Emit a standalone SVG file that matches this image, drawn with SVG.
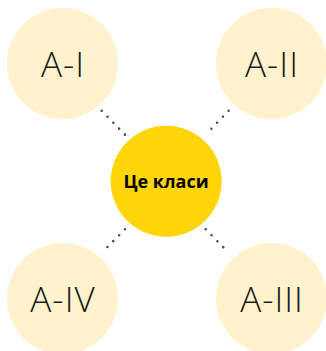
<svg xmlns="http://www.w3.org/2000/svg" width="326" height="351" viewBox="0 0 326 351">
<style>
.sat{fill:#FFF2CC}
.hub{fill:#FFD50A}
.lbl{font-family:"Open Sans","Noto Sans","Liberation Sans",sans-serif;font-weight:300;font-size:35px;letter-spacing:1px;fill:#1a1a1a;text-anchor:middle}
.hubl{font-family:"Open Sans","Noto Sans","Liberation Sans",sans-serif;font-weight:700;font-size:18px;fill:#000;text-anchor:middle}
.con{stroke:#44546A;stroke-width:2.6;stroke-linecap:round;stroke-dasharray:0 8.35;fill:none}
</style>
<rect width="326" height="351" fill="#fff"/>
<g id="connectors">
<line class="con" x1="101.7" y1="110.7" x2="125" y2="134.7"/>
<line class="con" x1="228.7" y1="110.7" x2="205.7" y2="134.7"/>
<line class="con" x1="125" y1="229.3" x2="101.7" y2="252.7"/>
<line class="con" x1="205.7" y1="229.3" x2="228.7" y2="252.7"/>
</g>
<g id="a1"><circle class="sat" cx="62.5" cy="63.5" r="55.5"/><text class="lbl" x="63" y="77">A-I</text></g>
<g id="a2"><circle class="sat" cx="271.5" cy="63.5" r="55.5"/><text class="lbl" x="272" y="77">A-II</text></g>
<g id="a4"><circle class="sat" cx="62.5" cy="298.5" r="55.5"/><text class="lbl" x="63" y="312">A-IV</text></g>
<g id="a3"><circle class="sat" cx="271.5" cy="298.5" r="55.5"/><text class="lbl" x="272" y="312">A-III</text></g>
<g id="hub"><circle class="hub" cx="166.2" cy="181.2" r="55.5"/><text class="hubl" x="166" y="188">Це класи</text></g>
</svg>
